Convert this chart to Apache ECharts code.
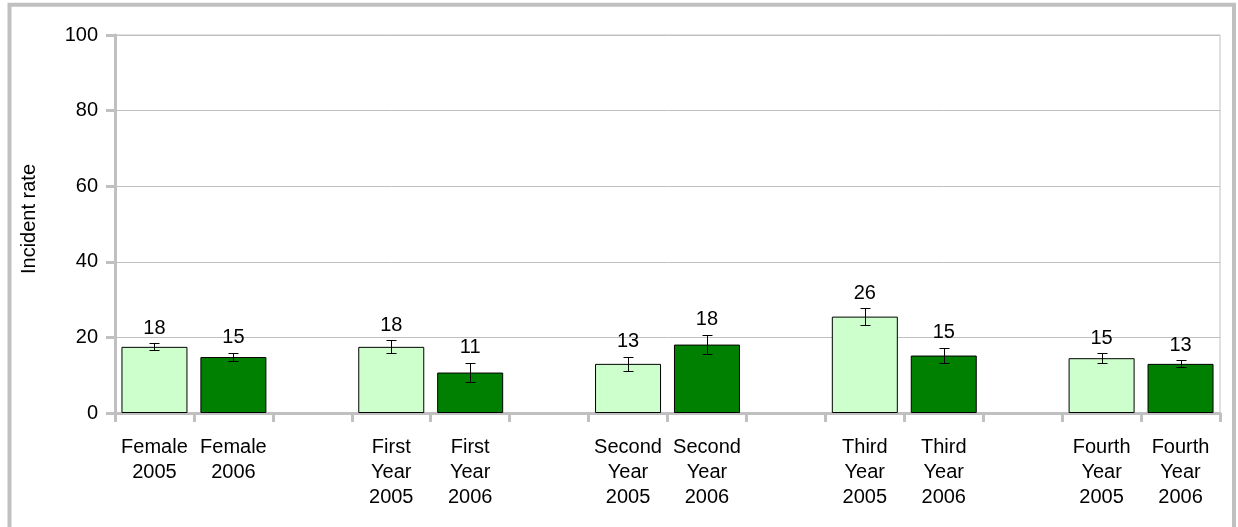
<!DOCTYPE html>
<html>
<head>
<meta charset="utf-8">
<script src="https://cdn.jsdelivr.net/npm/echarts@6/dist/echarts.min.js"></script>
<style>
html,body{margin:0;padding:0;background:#fff;}
#chart{width:1238px;height:527px;}
</style>
</head>
<body>
<div id="chart"></div>
<script>
// ---- data ----
const groups = ['Female', 'First Year', 'Second Year', 'Third Year', 'Fourth Year'];
const years = ['2005', '2006'];
const values2005 = [17.5, 17.5, 13.0, 25.5, 14.5];
const values2006 = [14.8, 10.7, 18.1, 15.2, 13.0];
const err2005 = [0.9, 1.7, 1.9, 2.2, 1.3];
const err2006 = [1.1, 2.6, 2.6, 2.0, 0.9];
const yTicks = [0, 20, 40, 60, 80, 100];

// ---- build categories (one empty slot between groups) ----
const categories = [];
const s2005 = [];
const s2006 = [];
const errData = [];
groups.forEach(function (g, i) {
  const i05 = categories.length;
  categories.push((g + ' ' + years[0]).split(' ').join('\n'));
  s2005.push(values2005[i]); s2006.push('-');
  errData.push([i05, values2005[i] - err2005[i], values2005[i] + err2005[i], values2005[i]]);
  const i06 = categories.length;
  categories.push((g + ' ' + years[1]).split(' ').join('\n'));
  s2005.push('-'); s2006.push(values2006[i]);
  errData.push([i06, values2006[i] - err2006[i], values2006[i] + err2006[i], values2006[i]]);
  if (i < groups.length - 1) {
    categories.push('');
    s2005.push('-'); s2006.push('-');
  }
});

const FONT = 'Liberation Sans, Arial, sans-serif';
const FS = 20;
const GRAY = '#c0c0c0';

const chart = echarts.init(document.getElementById('chart'), null, {renderer: 'canvas'});
chart.setOption({
  animation: false,
  backgroundColor: '#fff',
  graphic: [{
    type: 'rect',
    shape: {x: 9.5, y: 4.7, width: 1224.5, height: 600},
    style: {fill: null, stroke: GRAY, lineWidth: 4},
    silent: true,
    z: -10
  }],
  grid: {left: 115, right: 18, top: 35, bottom: 114, show: true, borderColor: GRAY, borderWidth: 1, backgroundColor: 'transparent'},
  xAxis: {
    type: 'category',
    data: categories,
    boundaryGap: true,
    axisLine: {show: true, lineStyle: {color: GRAY, width: 3}},
    axisTick: {show: true, alignWithLabel: false, interval: 0, length: 9, lineStyle: {color: GRAY, width: 3}},
    axisLabel: {interval: 0, color: '#000', fontFamily: FONT, fontSize: FS, lineHeight: 25, margin: 22, align: 'center'},
    splitLine: {show: false}
  },
  yAxis: {
    type: 'value',
    min: yTicks[0],
    max: yTicks[yTicks.length - 1],
    interval: yTicks[1] - yTicks[0],
    name: 'Incident rate',
    nameLocation: 'middle',
    nameGap: 76,
    nameRotate: 90,
    nameTextStyle: {color: '#000', fontFamily: FONT, fontSize: FS, padding: [0, 0, 0, 10]},
    axisLine: {show: true, lineStyle: {color: GRAY, width: 3}},
    axisTick: {show: true, length: 9, lineStyle: {color: GRAY, width: 3}},
    axisLabel: {color: '#000', fontFamily: FONT, fontSize: FS, margin: 17},
    splitLine: {show: true, lineStyle: {color: GRAY, width: 1}}
  },
  series: [
    {
      name: '2005',
      type: 'bar',
      data: s2005,
      barWidth: 66,
      barGap: '-100%',
      itemStyle: {color: '#ccffcc', borderColor: '#000', borderWidth: 1},
      z: 2
    },
    {
      name: '2006',
      type: 'bar',
      data: s2006,
      barWidth: 66,
      barGap: '-100%',
      itemStyle: {color: '#008000', borderColor: '#000', borderWidth: 1},
      z: 2
    },
    {
      name: 'err',
      type: 'custom',
      data: errData,
      encode: {x: 0, y: [1, 2]},
      z: 5,
      renderItem: function (params, api) {
        const idx = api.value(0);
        const lo = api.coord([idx, api.value(1)]);
        const hi = api.coord([idx, api.value(2)]);
        const x = Math.round(hi[0]) + 0.5;
        const yHi = Math.round(hi[1]) + 0.5;
        const yLo = Math.round(lo[1]) + 0.5;
        const cap = 5;
        const st = {stroke: '#000', lineWidth: 1};
        return {
          type: 'group',
          children: [
            {type: 'line', shape: {x1: x, y1: yHi, x2: x, y2: yLo}, style: st},
            {type: 'line', shape: {x1: x - cap, y1: yHi, x2: x + cap, y2: yHi}, style: st},
            {type: 'line', shape: {x1: x - cap, y1: yLo, x2: x + cap, y2: yLo}, style: st},
            {type: 'text', x: hi[0], y: hi[1] - 15,
              style: {text: String(Math.round(api.value(3))), fill: '#000', font: FS + 'px ' + FONT, align: 'center', verticalAlign: 'middle'}}
          ]
        };
      }
    }
  ]
});
</script>
</body>
</html>
